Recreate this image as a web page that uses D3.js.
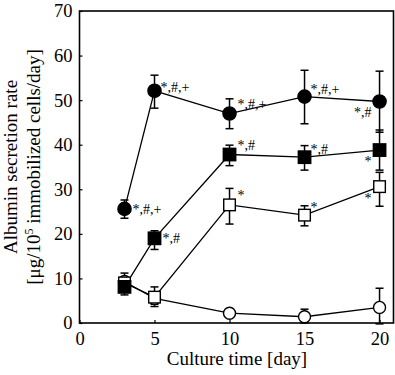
<!DOCTYPE html>
<html>
<head>
<meta charset="utf-8">
<script src="https://cdn.jsdelivr.net/npm/d3@7"></script>
<style>
  body { margin: 0; background: #fff; }
  svg { display: block; font-family: "Liberation Serif", "Times New Roman", serif; }
</style>
</head>
<body>
<svg width="395" height="375"></svg>
<script>
const width = 395;
const height = 375;

// culture days
const days = [3, 5, 10, 15, 20];

// series values (albumin secretion rate) with error bar ends
const openCircle = [9.3, 5.5, 2.2, 1.4, 3.5];
const openCircleLo = [7.4, 4.2, 1.8, 0, -0.2];
const openCircleHi = [11.2, 6.9, 2.6, 3.1, 7.8];

const openSquare = [9.0, 5.8, 26.5, 24.2, 30.6];
const openSquareLo = [7.8, 3.7, 22.2, 21.8, 26.2];
const openSquareHi = [10.2, 8.1, 30.2, 26.3, 33.8];

const filledSquare = [8.1, 19.0, 37.8, 37.2, 38.8];
const filledSquareLo = [6.3, 16.5, 35.3, 34.3, 34.3];
const filledSquareHi = [9.9, 20.7, 39.9, 39.8, 43.3];

const filledCircle = [25.6, 52.1, 47.0, 50.8, 49.7];
const filledCircleLo = [23.5, 48.2, 43.6, 44.7, 42.8];
const filledCircleHi = [27.6, 55.6, 50.3, 56.7, 56.5];

// significance marks and where they sit (r = right, ur = upper right, ll = lower left)
const openCircleMarks = ["", "", "", "", ""];
const openSquareMarks = ["", "", "*", "*", "*"];
const openSquarePlace = ["", "", "ur", "ur2", "ll"];
const filledSquareMarks = ["", "*,#", "*,#", "*,#", "*"];
const filledSquarePlace = ["", "r", "ur", "ur2", "ll"];
const filledCircleMarks = ["*,#,+", "*,#,+", "*,#,+", "*,#,+", "*,#"];
const filledCirclePlace = ["r", "ur1", "ur", "ur2", "ll"];

const xTicks = [0, 5, 10, 15, 20];
const yTicks = [0, 10, 20, 30, 40, 50, 60, 70];

const svg = d3.select("svg")
    .attr("viewBox", [0, 0, width, height]);

const x = d3.scaleLinear().domain([0, 20.93]).range([79.5, 393.5]);
const y = d3.scaleLinear().domain([0, 70]).range([323, 11]);

// frame
svg.append("rect")
    .attr("x", x(0))
    .attr("y", y(70))
    .attr("width", x(20.93) - x(0))
    .attr("height", y(0) - y(70))
    .attr("fill", "none")
    .attr("stroke", "#000")
    .attr("stroke-width", 1.6);

// axes, ticks pointing inward
const xAxis = svg.append("g")
    .attr("transform", `translate(0,${y(0)})`)
    .call(d3.axisBottom(x).tickValues(xTicks).tickSizeInner(-3).tickSizeOuter(0).tickPadding(9));
const yAxis = svg.append("g")
    .attr("transform", `translate(${x(0)},0)`)
    .call(d3.axisLeft(y).tickValues(yTicks).tickSizeInner(-3).tickSizeOuter(0).tickPadding(7));

[xAxis, yAxis].forEach(g => {
    g.attr("font-family", null).attr("font-size", null);
    g.select(".domain").remove();
    g.selectAll("line").attr("stroke", "#000").attr("stroke-width", 1.2);
    g.selectAll("text")
        .attr("fill", "#000")
        .style("font-size", "18.5px");
});

// axis titles
svg.append("text")
    .attr("x", 237)
    .attr("y", 365)
    .attr("text-anchor", "middle")
    .style("font-size", "19px")
    .text("Culture time [day]");

const yTitle = svg.append("g")
    .attr("transform", `translate(0,${(y(0) + y(70)) / 2}) rotate(-90)`)
    .style("font-size", "19px");
yTitle.append("text")
    .attr("x", 0)
    .attr("y", 17)
    .attr("text-anchor", "middle")
    .text("Albumin secretion rate");
const line2 = yTitle.append("text")
    .attr("x", 0)
    .attr("y", 40)
    .attr("text-anchor", "middle");
line2.append("tspan").text("[μg/10");
line2.append("tspan").attr("dy", -7).style("font-size", "12px").text("5");
line2.append("tspan").attr("dy", 7).text(" immobilized cells/day]");

const series = [
    { v: openCircle, lo: openCircleLo, hi: openCircleHi, shape: "circle", fill: "#fff", marks: openCircleMarks, place: [] },
    { v: openSquare, lo: openSquareLo, hi: openSquareHi, shape: "square", fill: "#fff", marks: openSquareMarks, place: openSquarePlace },
    { v: filledSquare, lo: filledSquareLo, hi: filledSquareHi, shape: "square", fill: "#000", marks: filledSquareMarks, place: filledSquarePlace },
    { v: filledCircle, lo: filledCircleLo, hi: filledCircleHi, shape: "circle", fill: "#000", marks: filledCircleMarks, place: filledCirclePlace }
];

const line = d3.line()
    .x((d, i) => x(days[i]))
    .y(d => y(d));

// lines under everything
series.forEach(s => {
    svg.append("path")
        .datum(s.v)
        .attr("fill", "none")
        .attr("stroke", "#000")
        .attr("stroke-width", 1.3)
        .attr("d", line);
});

// error bars
series.forEach(s => {
    const g = svg.append("g").attr("stroke", "#000").attr("stroke-width", 1.5);
    days.forEach((d, i) => {
        const cx = x(d);
        g.append("line").attr("x1", cx).attr("x2", cx).attr("y1", y(s.lo[i])).attr("y2", y(s.hi[i]));
        g.append("line").attr("x1", cx - 4).attr("x2", cx + 4).attr("y1", y(s.lo[i])).attr("y2", y(s.lo[i]));
        g.append("line").attr("x1", cx - 4).attr("x2", cx + 4).attr("y1", y(s.hi[i])).attr("y2", y(s.hi[i]));
    });
});

// markers, drawn series by series
series.forEach(s => {
    const g = svg.append("g");
    days.forEach((d, i) => {
        const cx = x(d), cy = y(s.v[i]);
        if (s.shape === "circle") {
            g.append("circle")
                .attr("cx", cx).attr("cy", cy)
                .attr("r", s.fill === "#000" ? 6.6 : 6)
                .attr("fill", s.fill)
                .attr("stroke", "#000")
                .attr("stroke-width", 1.4);
        } else {
            const h = s.fill === "#000" ? 6.2 : 5.8;
            g.append("rect")
                .attr("x", cx - h).attr("y", cy - h)
                .attr("width", 2 * h).attr("height", 2 * h)
                .attr("fill", s.fill)
                .attr("stroke", "#000")
                .attr("stroke-width", 1.4);
        }
    });
});

// significance labels
const offsets = {
    r: [8, 5, "start"],
    ur1: [6, 1, "start"],
    ur: [8, -5, "start"],
    ur2: [6, -3, "start"],
    ll: [-8, 16, "end"]
};
series.forEach(s => {
    s.marks.forEach((m, i) => {
        if (!m) return;
        const [dx, dy, anchor] = offsets[s.place[i]];
        svg.append("text")
            .attr("x", x(days[i]) + dx)
            .attr("y", y(s.v[i]) + dy)
            .attr("text-anchor", anchor)
            .style("font-size", "14px")
            .text(m);
    });
});
</script>
</body>
</html>
